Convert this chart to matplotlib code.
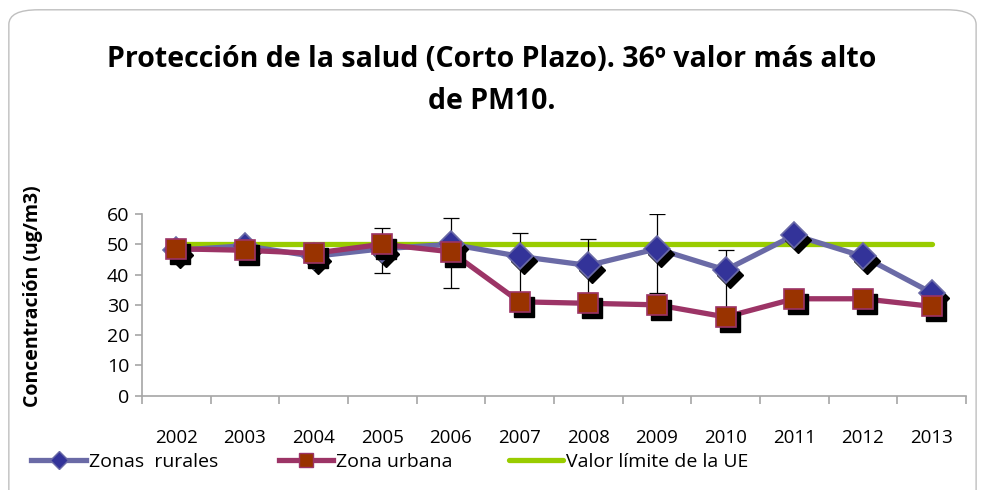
import numpy as np
import matplotlib
matplotlib.use('Agg')
import matplotlib.pyplot as plt
import matplotlib.patches as mpatches
from matplotlib.transforms import offset_copy
from matplotlib.lines import Line2D

# ── data ─────────────────────────────────────────────────────────────────
years = ['2002', '2003', '2004', '2005', '2006', '2007',
         '2008', '2009', '2010', '2011', '2012', '2013']
rural = [48.0, 49.5, 46.0, 48.5, 50.0, 46.0, 43.0, 48.5, 41.5, 53.0, 46.0, 34.0]
urban = [48.5, 48.0, 47.0, 50.0, 47.5, 31.0, 30.5, 30.0, 26.0, 32.0, 32.0, 29.5]
limite = [50] * 12
err_up = [0, 0, 0, 6.8, 8.8, 7.6, 8.6, 11.5, 6.6, 0, 0, 0]
err_dn = [0, 0, 0, 8.1, 14.3, 14.0, 9.0, 14.7, 12.5, 0, 0, 0]

title = 'Protección de la salud (Corto Plazo). 36º valor más alto\nde PM10.'
ylabel = 'Concentración (ug/m3)'
labels = ['Zonas  rurales', 'Zona urbana', 'Valor límite de la UE']

# ── colours ──────────────────────────────────────────────────────────────
RURAL_LINE = '#6a6aa6'
RURAL_FILL = '#333399'
URBAN_LINE = '#9c3466'
URBAN_FILL = '#993300'
GREEN = '#99cc00'
AXIS_C = '#a6a6a6'

plt.rcParams['font.family'] = ['Open Sans', 'DejaVu Sans']

fig = plt.figure(figsize=(9.82, 4.90), dpi=100)
ax = fig.add_axes([0.1446, 0.1924, 0.839, 0.371])

# rounded chart border
fig.patches.append(mpatches.FancyBboxPatch(
    (0.009, -0.05), 0.985, 1.03, boxstyle='round,pad=0,rounding_size=0.03',
    transform=fig.transFigure, facecolor='none', edgecolor='#bfbfbf',
    linewidth=1.0, zorder=0))

x = np.arange(len(years))
shadow = offset_copy(ax.transData, fig=fig, x=4, y=-5, units='dots')

ax.plot(x, limite, color=GREEN, lw=3.8, solid_capstyle='round', zorder=1)

# error bars on rural series
mask = np.array(err_up) + np.array(err_dn) > 0
ax.errorbar(x[mask], np.array(rural)[mask],
            yerr=[np.array(err_dn)[mask], np.array(err_up)[mask]],
            fmt='none', ecolor='black', elinewidth=0.9, capsize=6,
            capthick=0.9, zorder=2)

ax.plot(x, rural, color=RURAL_LINE, lw=3.8, zorder=3)
ax.plot(x, rural, ls='none', marker='D', ms=13, color='black',
        transform=shadow, zorder=3.5)
ax.plot(x, rural, ls='none', marker='D', ms=13, mfc=RURAL_FILL,
        mec=RURAL_LINE, mew=1.2, zorder=4)

ax.plot(x, urban, color=URBAN_LINE, lw=3.8, zorder=5)
ax.plot(x, urban, ls='none', marker='s', ms=15, color='black',
        transform=shadow, zorder=5.5)
ax.plot(x, urban, ls='none', marker='s', ms=15, mfc=URBAN_FILL,
        mec=URBAN_LINE, mew=1.2, zorder=6)

# ── axes styling ─────────────────────────────────────────────────────────
ax.set_xlim(-0.5, len(years) - 0.5)
ax.set_ylim(0, 60)
ax.set_yticks(range(0, 61, 10))
ax.set_xticks(x)
ax.set_xticklabels(years)
ax.set_xticks(np.arange(-0.5, len(years)), minor=True)
ax.tick_params(axis='x', which='major', length=0, pad=24, labelsize=13.5)
ax.tick_params(axis='x', which='minor', length=6, color=AXIS_C, width=1.2)
ax.tick_params(axis='y', length=5, color=AXIS_C, width=1.2, labelsize=14, pad=4)
for s in ['top', 'right']:
    ax.spines[s].set_visible(False)
for s in ['left', 'bottom']:
    ax.spines[s].set_color(AXIS_C)
    ax.spines[s].set_linewidth(1.2)

fig.text(0.501, 0.835, title, ha='center', va='center', fontsize=20.5,
         fontweight='bold', linespacing=1.6)
fig.text(0.034, 0.396, ylabel, rotation=90, ha='center', va='center',
         fontsize=14, fontweight='bold')

# ── legend: one entry per anchor, as laid out in the reference ─────────
handles = [
    Line2D([], [], color=RURAL_LINE, lw=3.8, marker='D', ms=9,
           mfc=RURAL_FILL, mec=RURAL_LINE),
    Line2D([], [], color=URBAN_LINE, lw=3.8, marker='s', ms=10,
           mfc=URBAN_FILL, mec=URBAN_LINE),
    Line2D([], [], color=GREEN, lw=3.8, solid_capstyle='round'),
]
legend_x = [0.032, 0.284, 0.518]
for h, lab, lx in zip(handles, labels, legend_x):
    fig.legend([h], [lab], loc='center left', bbox_to_anchor=(lx, 0.058),
               frameon=False, fontsize=14, handlelength=2.8,
               handletextpad=0.15, borderaxespad=0, borderpad=0)

fig.savefig('out.png', dpi=100, facecolor='white')
